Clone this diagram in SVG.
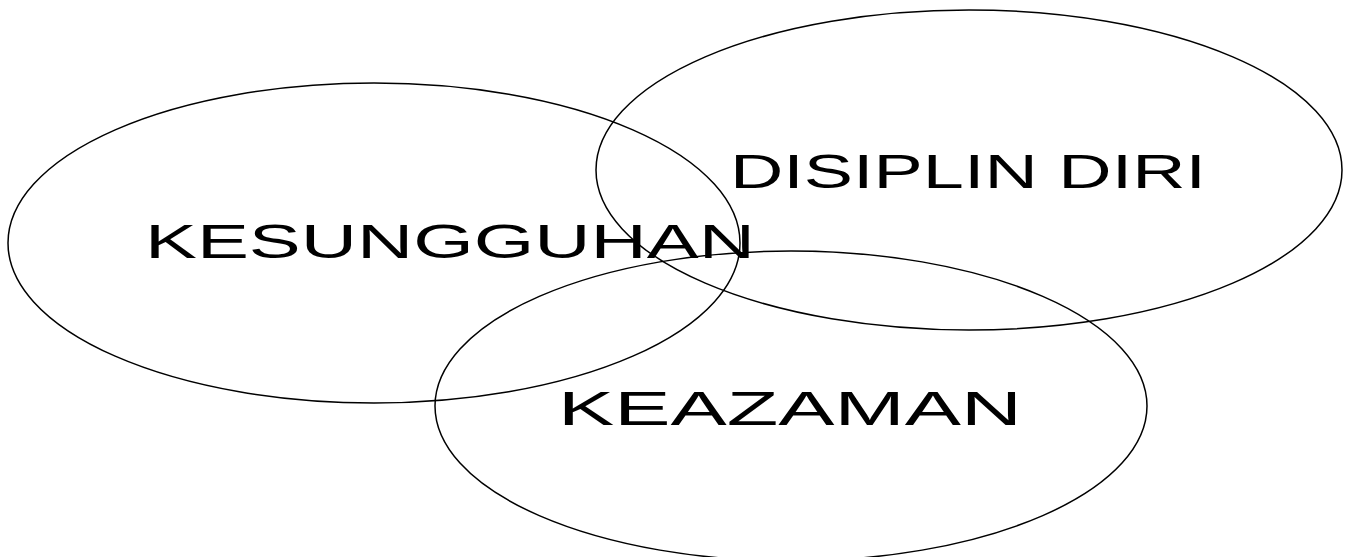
<svg xmlns="http://www.w3.org/2000/svg" width="1352" height="557" viewBox="0 0 1352 557">
<style>
.e{fill:none;stroke:#000;stroke-width:1.5}
.t{font-family:"Liberation Sans",Arial,sans-serif;font-size:48px;fill:#000}
</style>
<rect width="1352" height="557" fill="#fff"/>
<g id="connectors"/>
<g id="kesungguhan">
<ellipse class="e" cx="374" cy="243" rx="366" ry="160"/>
<text class="t" x="145" y="258" textLength="610" lengthAdjust="spacingAndGlyphs">KESUNGGUHAN</text>
</g>
<g id="disiplin-diri">
<ellipse class="e" cx="969" cy="170" rx="373" ry="160"/>
<text class="t" x="730" y="188" textLength="476" lengthAdjust="spacingAndGlyphs">DISIPLIN DIRI</text>
</g>
<g id="keazaman">
<ellipse class="e" cx="791" cy="406" rx="356" ry="155"/>
<text class="t" x="558" y="425" textLength="464" lengthAdjust="spacingAndGlyphs">KEAZAMAN</text>
</g>
</svg>
